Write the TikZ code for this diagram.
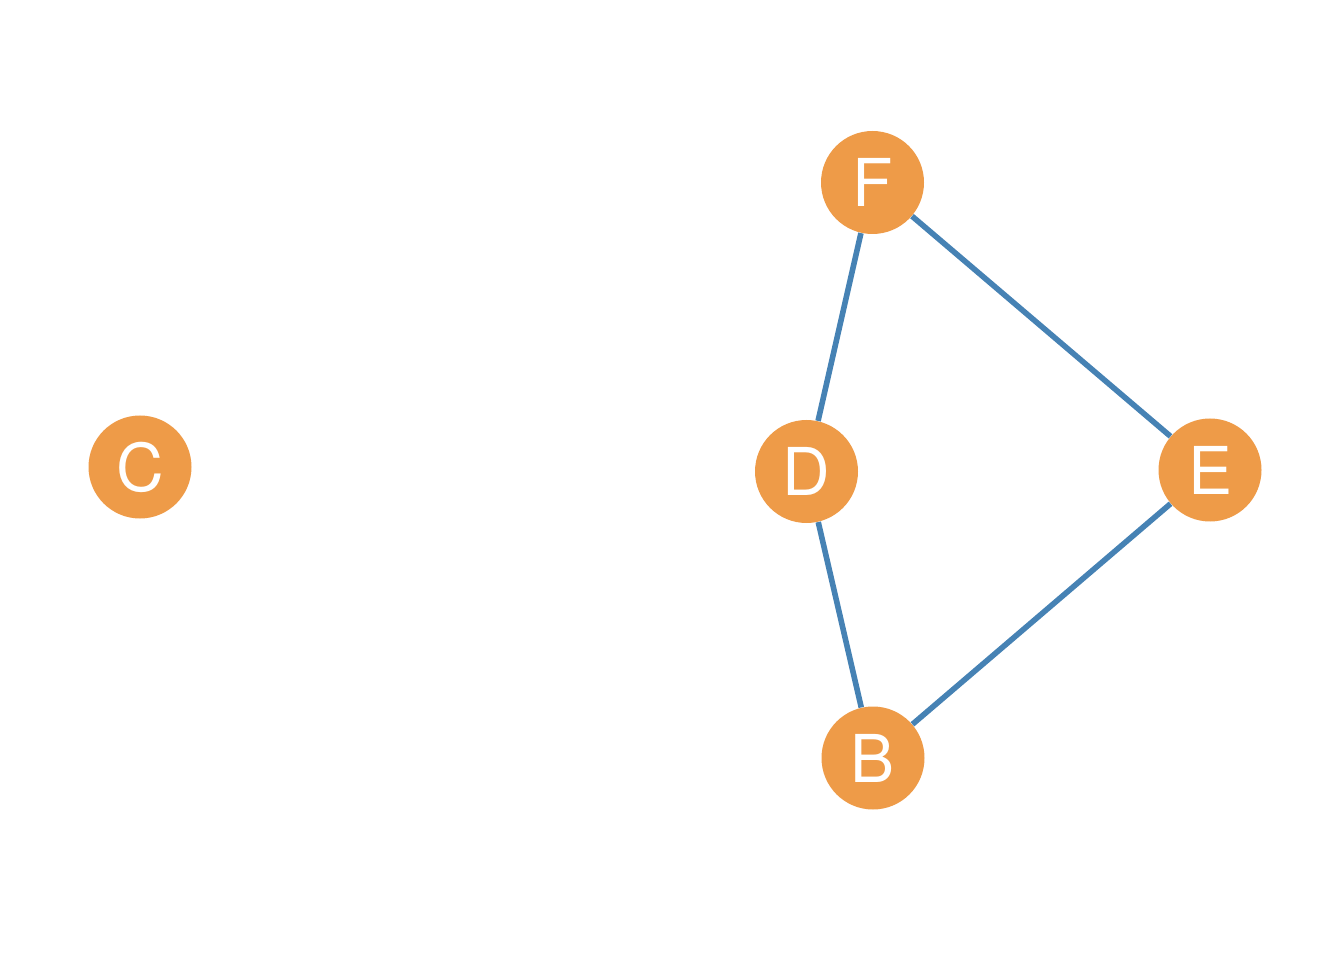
\documentclass[tikz,border=0pt]{standalone}
\usepackage{fontspec}
\setmainfont{TeX Gyre Heros}
\definecolor{vertexfill}{HTML}{EE9B48}
\definecolor{edgeblue}{HTML}{4682B4}
\begin{document}
\begin{tikzpicture}[x=1pt,y=1pt,
  vertex/.style={circle, fill=vertexfill, draw=none, minimum size=51.5pt, inner sep=0pt,
    text=white, font=\fontsize{33}{33}\selectfont},
  link/.style={draw=edgeblue, line width=2.8pt}]
  \useasboundingbox (0,0) rectangle (672,480);
  % vertices
  \node[vertex] (C) at (70,246.5) {C};
  \node[vertex] (F) at (436.25,388.75) {F};
  \node[vertex] (D) at (403.25,244.25) {D};
  \node[vertex] (E) at (605,245) {E};
  \node[vertex] (B) at (436.5,101) {B};
  % edges between vertex borders
  \path[link] (F) -- (D);
  \path[link] (F) -- (E);
  \path[link] (D) -- (B);
  \path[link] (E) -- (B);
\end{tikzpicture}
\end{document}
